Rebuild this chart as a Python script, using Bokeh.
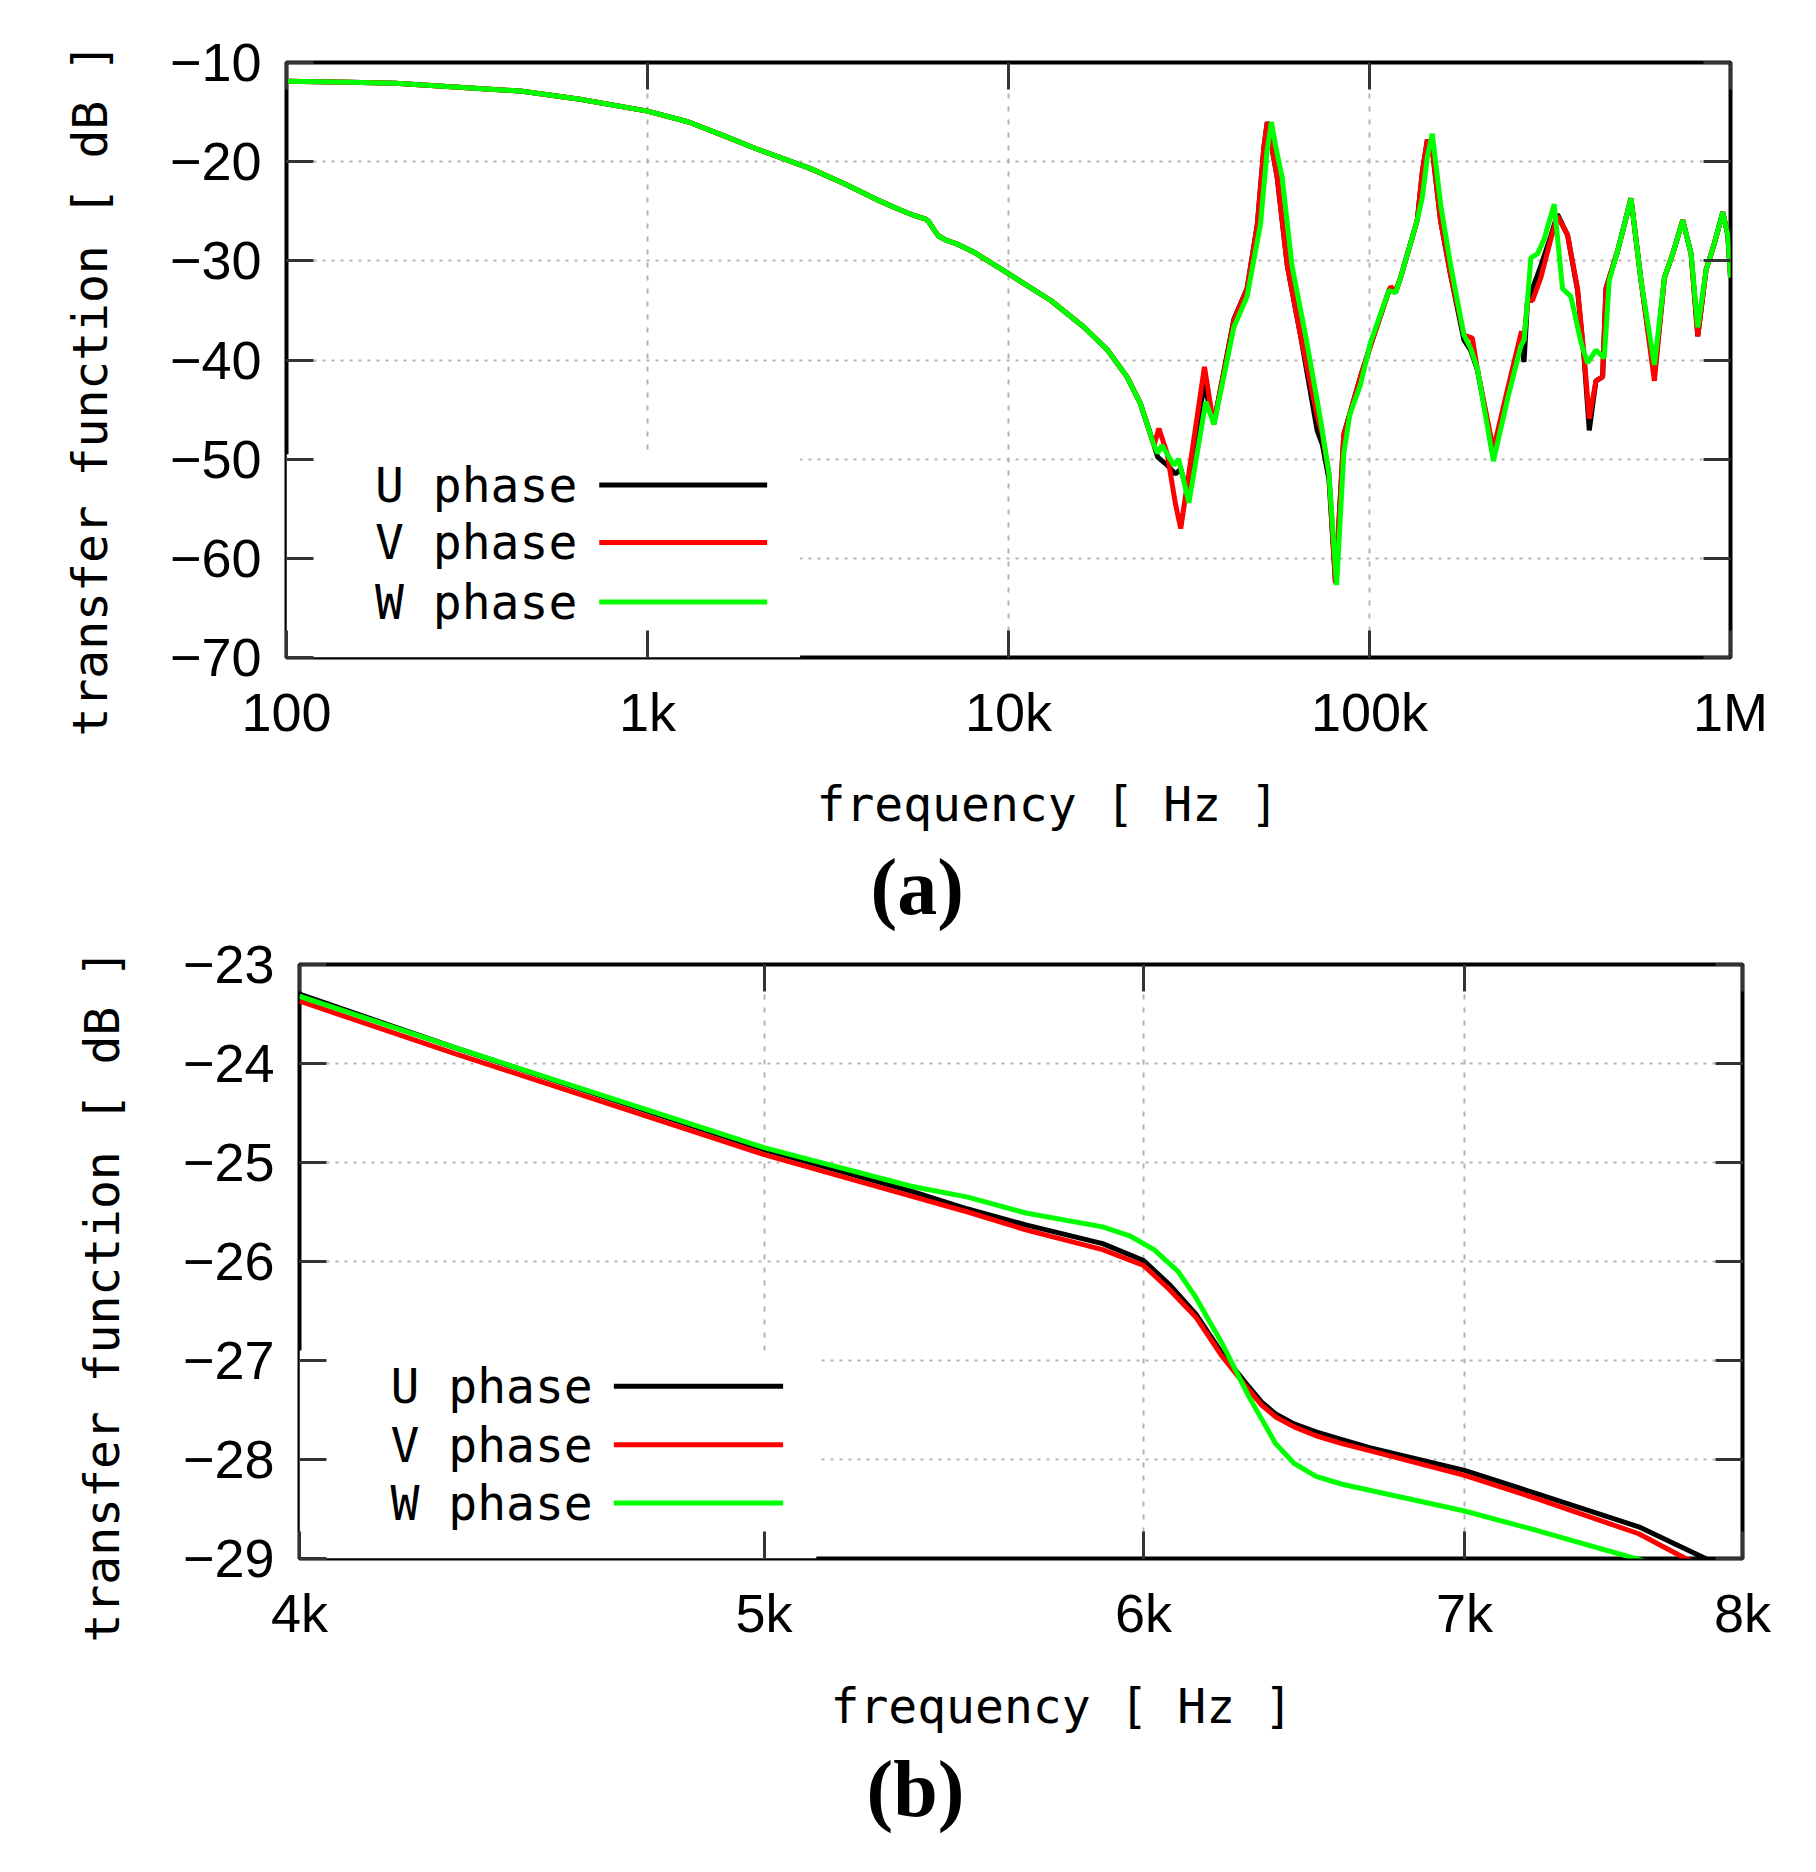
from bokeh.embed import file_html
from bokeh.models import (Arrow, BoxAnnotation, FixedTicker, Label, LinearAxis,
                          LogAxis, Range1d, Title)
from bokeh.plotting import figure
from bokeh.resources import INLINE

# ---- (a) 100 Hz .. 1 MHz, shared low frequency part ----
freq_a_common = [100, 150, 200, 300, 450, 650, 1000, 1300, 1630, 2000, 2830, 3500,
                 4300, 5000, 5500, 5900, 6000, 6100, 6230, 6400, 6700, 7250, 8000,
                 10000, 13100, 16200, 18800, 21300, 23200, 25300]
db_a_common = [-11.9, -12.0, -12.1, -12.5, -12.9, -13.7, -14.9, -16.0, -17.4, -18.7,
               -20.7, -22.2, -23.8, -24.85, -25.45, -25.8, -26.0, -26.4, -26.9, -27.5,
               -27.9, -28.35, -29.1, -31.3, -34.0, -36.7, -39.0, -41.7, -44.4, -48.6]

# U phase above 25 kHz
freq_a_u = [25900, 27500, 29000, 30000, 31300, 33000, 34800, 37100, 42100, 45800,
            48900, 51000, 52100, 53000, 55500, 59200, 64400, 71600, 74000, 77200,
            80500, 84900, 94400, 100700, 113200, 114400, 118100, 121900, 135600,
            140100, 144600, 149300, 157400, 167900, 182700, 190600, 199100, 220400,
            241000, 262500, 268000, 274000, 282800, 298300, 317900, 331700, 353700,
            377000, 393400, 406200, 423900, 442300, 451800, 486800, 530200, 565100,
            615500, 656100, 691800, 737400, 777800, 811700, 855900, 902900, 952100,
            983000, 1000000]
db_a_u = [-49.8, -50.6, -51.5, -51.0, -53.3, -48.0, -42.5, -46.3, -35.9, -32.8,
          -26.3, -18.5, -16.0, -17.5, -21.6, -30.5, -37.5, -47.1, -48.5, -52.0,
          -62.5, -47.5, -41.7, -38.5, -33.0, -32.8, -33.2, -31.7, -25.9,
          -21.0, -17.8, -18.8, -26.0, -31.5, -38.0, -39.0, -41.0, -49.5,
          -43.5, -38.0, -40.2, -34.0, -32.8, -30.5, -27.5, -25.3, -27.4,
          -33.0, -40.0, -47.1, -42.1, -41.7, -32.8, -29.0, -23.7, -32.0,
          -41.5, -31.7, -29.3, -25.9, -29.3, -37.6, -30.9, -28.2, -25.1,
          -27.4, -31.7]

# V phase above 25 kHz
freq_a_v = [26100, 27500, 29000, 30000, 31600, 34900, 37000, 42200, 45800, 48900,
            51000, 52100, 53000, 55500, 59200, 64400, 71600, 74000, 77200, 80500,
            84900, 94400, 100700, 113200, 114400, 118100, 121900, 135600, 140100,
            144600, 149300, 157400, 167900, 182700, 192700, 199100, 220400, 241000,
            263600, 268000, 274000, 282800, 298300, 317900, 331700, 353700, 377000,
            393400, 406200, 423900, 442300, 451800, 486800, 530200, 565100, 615500,
            656100, 691800, 737400, 777800, 811700, 855900, 902900, 952100, 983000,
            1000000]
db_a_v = [-46.9, -49.4, -54.5, -57.0, -51.4, -40.7, -46.5, -35.9, -32.8, -26.3,
          -18.5, -16.0, -17.5, -21.6, -30.5, -37.5, -45.6, -47.5, -51.5, -62.5,
          -47.5, -41.7, -38.5, -33.0, -32.6, -33.0, -31.7, -25.9, -21.0,
          -17.8, -18.8, -26.0, -31.5, -37.5, -37.8, -41.0, -49.0, -43.0,
          -37.1, -38.0, -34.0, -34.0, -31.7, -27.8, -25.5, -27.4, -32.8,
          -39.8, -45.9, -42.1, -41.7, -32.8, -29.0, -23.7, -32.0, -42.1,
          -31.7, -29.3, -25.9, -29.3, -37.6, -30.9, -28.2, -25.1, -27.4,
          -31.7]

# W phase above 25 kHz
freq_a_w = [25900, 26600, 28700, 29600, 31600, 35200, 37100, 42100, 45800, 49900,
            52000, 53500, 55000, 57300, 61000, 66500, 73100, 77200, 81100, 84900,
            88200, 94400, 100700, 113200, 118100, 121900, 135600, 140100, 144600,
            149300, 157400, 167900, 182700, 190600, 199100, 220400, 241000, 262500,
            268000, 274000, 279800, 292000, 304700, 324800, 342500, 361300, 385200,
            401900, 423900, 447000, 461500, 486800, 530200, 565100, 615500, 656100,
            691800, 737400, 777800, 811700, 855900, 902900, 952100, 983000, 1000000]
db_a_w = [-49.4, -48.6, -50.6, -50.0, -54.4, -44.2, -46.5, -36.7, -33.6, -26.3,
          -19.0, -16.0, -18.5, -21.6, -30.5, -37.5, -45.9, -51.4, -62.7, -49.4,
          -45.5, -42.5, -38.2, -33.0, -33.2, -31.7, -25.9, -23.6, -19.5,
          -17.2, -24.3, -30.5, -37.5, -38.8, -40.9, -50.2, -44.0, -38.6,
          -38.0, -34.0, -29.7, -29.3, -27.8, -24.3, -32.8, -33.6, -38.2,
          -40.3, -39.0, -39.8, -32.0, -29.0, -23.7, -32.0, -40.5, -31.7,
          -29.3, -25.9, -29.3, -36.7, -30.9, -28.2, -25.1, -27.4, -31.7]

# ---- (b) zoom 4 kHz .. 8 kHz ----
freq_b_u = [4000, 4310, 5000, 5366, 5514, 5670, 5883, 6000, 6074, 6152, 6231, 6312,
            6350, 6393, 6450, 6518, 6600, 6688, 7000, 7252, 7611, 7859, 8000]
db_b_u = [-23.30, -23.84, -24.87, -25.29, -25.47, -25.63, -25.82, -25.99, -26.23,
          -26.53, -26.93, -27.27, -27.42, -27.54, -27.64, -27.72, -27.80, -27.88,
          -28.11, -28.35, -28.68, -29.0, -29.15]
freq_b_v = [4000, 4310, 5000, 5366, 5514, 5670, 5883, 6000, 6074, 6152, 6231, 6312,
            6350, 6393, 6450, 6518, 6600, 6688, 7000, 7252, 7611, 7784, 8000]
db_b_v = [-23.37, -23.90, -24.92, -25.34, -25.50, -25.68, -25.88, -26.04, -26.28,
          -26.56, -26.96, -27.30, -27.45, -27.57, -27.67, -27.76, -27.84, -27.91,
          -28.16, -28.40, -28.75, -29.0, -29.22]
freq_b_w = [4000, 4310, 5000, 5366, 5514, 5670, 5883, 5960, 6030, 6100, 6152, 6231,
            6312, 6393, 6450, 6518, 6600, 6688, 7000, 7252, 7598, 8000]
db_b_w = [-23.32, -23.84, -24.85, -25.24, -25.35, -25.51, -25.65, -25.74, -25.88,
          -26.10, -26.36, -26.83, -27.37, -27.84, -28.04, -28.17, -28.25, -28.31,
          -28.52, -28.72, -29.0, -29.3]

phase_names = ["U phase", "V phase", "W phase"]
phase_colors = ["#000000", "#ff0000", "#00ff00"]

ticks_a_x = [100, 1000, 10000, 100000, 1000000]
labels_a_x = ["100", "1k", "10k", "100k", "1M"]
ticks_a_y = [-70, -60, -50, -40, -30, -20, -10]
labels_a_y = ["\u221270", "\u221260", "\u221250", "\u221240", "\u221230", "\u221220", "\u221210"]
ticks_b_x = [4000, 5000, 6000, 7000, 8000]
labels_b_x = ["4k", "5k", "6k", "7k", "8k"]
ticks_b_y = [-29, -28, -27, -26, -25, -24, -23]
labels_b_y = ["\u221229", "\u221228", "\u221227", "\u221226", "\u221225", "\u221224", "\u221223"]

MONO = "DejaVu Sans Mono"
SANS = "Liberation Sans"


def make_panel(x_range, y_range, xt, xl, yt, yl, size, borders, title_pos,
               tag, tag_pos, curves, legend_x, legend_line, legend_y, mask):
    left, right, top, bottom = borders
    ylab_offset, ylab_standoff, xlab_offset, xlab_standoff = title_pos
    p = figure(width=size[0], height=size[1], x_axis_type="log",
               x_range=Range1d(*x_range), y_range=Range1d(*y_range),
               output_backend="svg", toolbar_location=None,
               min_border_left=left, min_border_right=right,
               min_border_top=top, min_border_bottom=bottom)
    p.outline_line_color = "black"
    p.outline_line_width = 4
    p.outline_line_alpha = 1.0

    p.xaxis.ticker = FixedTicker(ticks=xt)
    p.xaxis.major_label_overrides = dict(zip(xt, xl))
    p.yaxis.ticker = FixedTicker(ticks=yt)
    p.yaxis.major_label_overrides = dict(zip(yt, yl))
    for ax in (p.xaxis[0], p.yaxis[0]):
        ax.axis_line_color = None
        ax.major_tick_in = 27
        ax.major_tick_out = 0
        ax.major_tick_line_width = 3
        ax.major_tick_line_color = "#333333"
        ax.minor_tick_line_color = None
        ax.major_label_text_font = SANS
        ax.major_label_text_font_size = "54px"
        ax.major_label_text_color = "black"
    p.xaxis.major_label_standoff = 24
    p.yaxis.major_label_standoff = 25

    # mirrored ticks on top and right, as gnuplot does
    top_ax = LogAxis(ticker=FixedTicker(ticks=xt), axis_line_color=None,
                     major_tick_in=27, major_tick_out=0, major_tick_line_width=3,
                     major_tick_line_color="#333333", minor_tick_line_color=None,
                     major_label_text_color=None, major_label_text_font_size="0px",
                     major_label_standoff=0)
    right_ax = LinearAxis(ticker=FixedTicker(ticks=yt), axis_line_color=None,
                          major_tick_in=27, major_tick_out=0, major_tick_line_width=3,
                          major_tick_line_color="#333333", minor_tick_line_color=None,
                          major_label_text_color=None, major_label_text_font_size="0px",
                          major_label_standoff=0)
    p.add_layout(top_ax, "above")
    p.add_layout(right_ax, "right")

    # axis titles placed like gnuplot's (not centred on the frame)
    p.add_layout(Title(text="transfer function [ dB ]", align="left",
                       offset=ylab_offset, vertical_align="top",
                       standoff=ylab_standoff, text_font=MONO,
                       text_font_size="48px", text_font_style="normal",
                       text_color="black"), "left")
    p.add_layout(Title(text="frequency [ Hz ]", align="left", offset=xlab_offset,
                       vertical_align="top", standoff=xlab_standoff, text_font=MONO,
                       text_font_size="48px", text_font_style="normal",
                       text_color="black"), "below")
    # sub-figure tag under the axis title
    p.add_layout(Title(text=tag, align="left", offset=tag_pos[0],
                       vertical_align="top", standoff=tag_pos[1],
                       text_font="Liberation Serif", text_font_size="80px",
                       text_font_style="bold", text_color="black"), "below")

    p.xgrid.ticker = FixedTicker(ticks=xt)
    p.ygrid.ticker = FixedTicker(ticks=yt)
    p.xgrid.grid_line_color = "#b4b4b4"
    p.xgrid.grid_line_width = 2
    p.xgrid.grid_line_dash = "5 8"
    p.ygrid.grid_line_color = "#b4b4b4"
    p.ygrid.grid_line_width = 2
    p.ygrid.grid_line_dash = "3 6"

    # white key area hides the grid like the gnuplot key box
    p.add_layout(BoxAnnotation(left=x_range[0], right=mask[0], top=mask[1],
                               bottom=y_range[0], fill_color="white", fill_alpha=1.0,
                               line_color=None, level="underlay"))

    for (fx, dy), color in zip(curves, phase_colors):
        p.line(fx, dy, line_width=5, color=color)

    for name, color, ly in zip(phase_names, phase_colors, legend_y):
        p.add_layout(Label(x=legend_x, y=ly, text=name, text_align="right",
                           text_baseline="middle", text_font=MONO,
                           text_font_size="48px", text_color="black"))
        p.add_layout(Arrow(end=None, x_start=legend_line[0], y_start=ly,
                           x_end=legend_line[1], y_end=ly, line_color=color,
                           line_width=5))
    return p


curves_a = [(freq_a_common + freq_a_u, db_a_common + db_a_u),
            (freq_a_common + freq_a_v, db_a_common + db_a_v),
            (freq_a_common + freq_a_w, db_a_common + db_a_w)]
curves_b = [(freq_b_u, db_b_u), (freq_b_v, db_b_v), (freq_b_w, db_b_w)]

p1 = make_panel((100, 1e6), (-70, -10), ticks_a_x, labels_a_x, ticks_a_y, labels_a_y,
                (1800, 932), (286, 70, 62, 275), (-79, 94, 530, 62),
                "(a)", (584, -44), curves_a,
                639, (735, 2145), [-52.6, -58.4, -64.4], (2647, -49.5))
p2 = make_panel((4000, 8000), (-29, -23), ticks_b_x, labels_b_x, ticks_b_y, labels_b_y,
                (1800, 940), (299, 58, 32, 314), (-84, 96, 531, 65),
                "(b)", (567, -48), curves_b,
                4605, (4652, 5046), [-27.26, -27.85, -28.44], (5127, -26.9))

# two separate roots so that the two frames keep their own left edges
open("out.html", "w").write(file_html([p1, p2], INLINE))
